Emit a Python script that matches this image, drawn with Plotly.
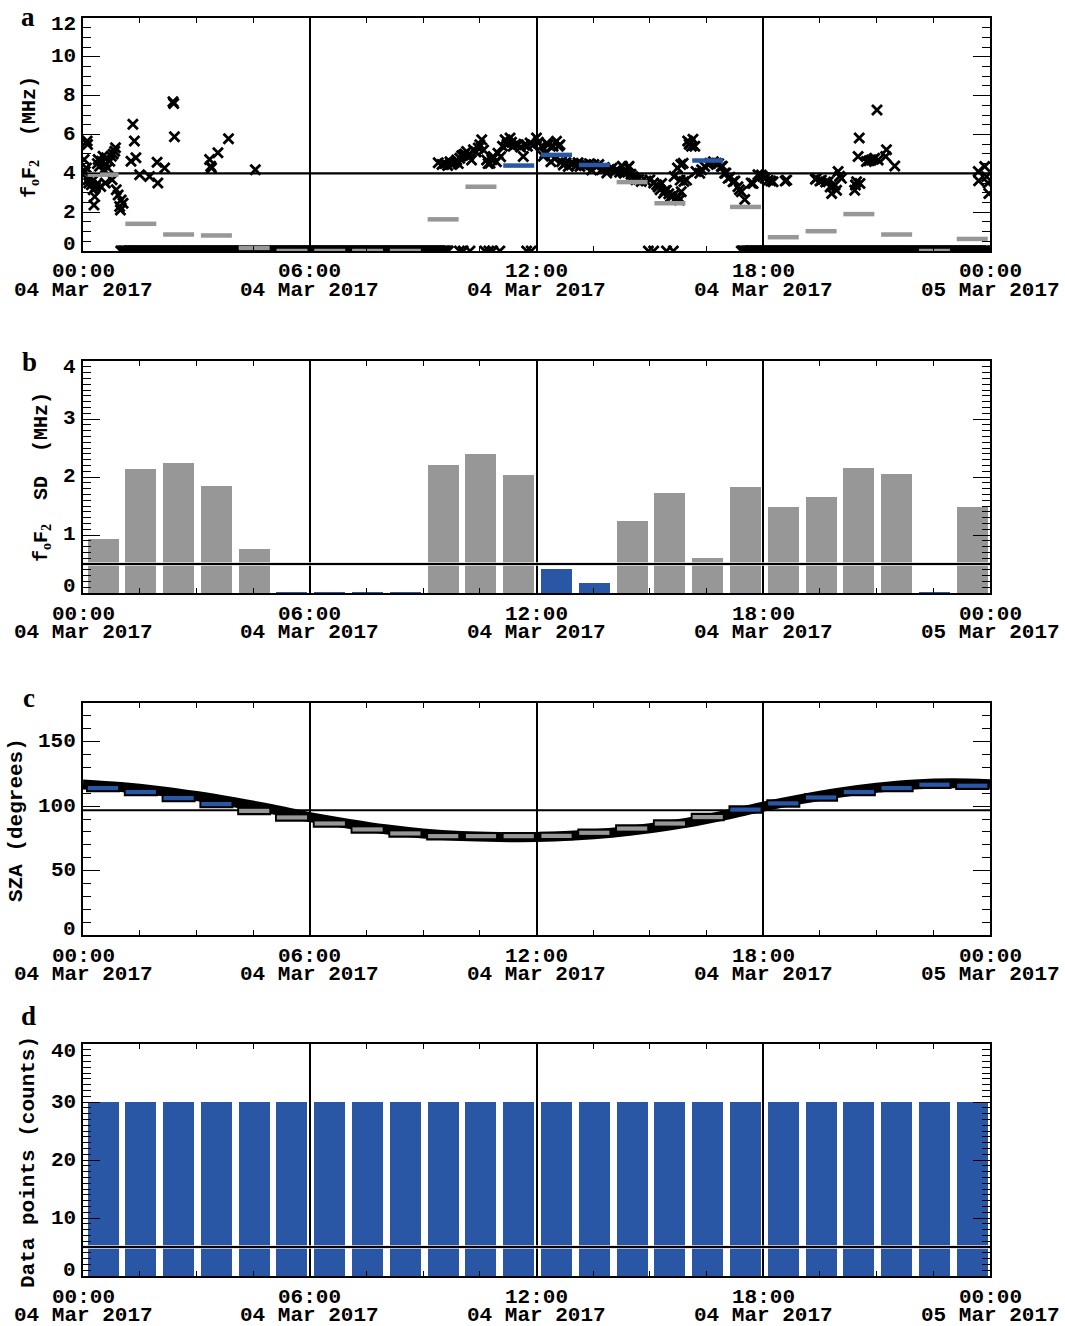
import numpy as np
import pandas as pd
import plotly.graph_objects as go

# ---------------------------------------------------------------- data
DAY_START = "2017-03-04 00:00"
DAY_END = "2017-03-05 00:00"
HOUR_INDEX = list(range(24))
TICK_HOURS = [0, 6, 12, 18, 24]

# panel a : individual foF2 samples (hours after 00:00 UT, MHz)
FOF2_TIME_H = [
    0.03, 0.06, 0.09, 0.11, 0.12, 0.13, 0.15, 0.18, 0.22, 0.25, 0.27, 0.29, 0.31, 0.33, 0.35,
    0.38, 0.40, 0.44, 0.47, 0.49, 0.53, 0.55, 0.57, 0.59, 0.62, 0.66, 0.71, 0.75, 0.77, 0.80,
    0.84, 0.86, 0.88, 0.93, 0.97, 0.99, 1.01, 1.06,
    1.27, 1.32, 1.36, 1.40, 1.50, 1.76, 1.96, 1.98, 2.16, 2.38, 2.40, 2.42,
    3.35, 3.38, 3.40, 3.57, 3.85, 4.56,
    9.40, 9.50, 9.58, 9.65, 9.71, 9.76, 9.80, 9.85, 9.89, 9.93, 9.97, 10.02, 10.06, 10.10,
    10.15, 10.20, 10.28, 10.33, 10.40, 10.46, 10.50, 10.55, 10.60, 10.68, 10.72, 10.77, 10.82,
    10.85, 10.94, 10.98, 11.05, 11.10, 11.17, 11.22, 11.25, 11.30, 11.34, 11.38, 11.45, 11.52,
    11.58, 11.65, 11.69, 11.76, 11.83, 11.90, 12.00, 12.05, 12.13, 12.18, 12.22, 12.27, 12.31,
    12.38, 12.44, 12.48, 12.53, 12.58, 12.62, 12.66, 12.71, 12.78, 12.84, 12.90, 12.97, 13.05,
    13.10, 13.15, 13.22, 13.27, 13.32, 13.40, 13.46, 13.52, 13.59, 13.65, 13.72, 13.80, 13.86,
    13.93, 14.00, 14.07, 14.13, 14.20, 14.27, 14.32, 14.36, 14.42, 14.45, 14.50, 14.55, 14.60,
    14.63, 14.70, 14.77, 14.90, 15.00, 15.10, 15.18, 15.22, 15.27, 15.31, 15.36, 15.40, 15.44,
    15.50, 15.55, 15.62, 15.69, 15.75, 15.78, 15.83, 15.64, 15.73, 15.80, 15.82, 15.88, 15.90,
    15.97, 16.00, 16.04, 16.06, 16.10, 16.14, 16.19, 16.22, 16.32, 16.37, 16.45, 16.55, 16.59,
    16.68, 16.76, 16.82, 16.89, 16.92, 16.98, 17.01, 17.07, 17.12, 17.20, 17.25, 17.33, 17.37,
    17.42, 17.51, 17.68, 17.73, 17.86, 17.95,
    17.99, 18.05, 18.13, 18.20, 18.26, 18.58, 18.62, 19.38, 19.41, 19.50, 19.54, 19.65, 19.72,
    19.77, 19.81, 19.90, 19.94, 19.98, 20.02, 20.07, 20.42, 20.44, 20.47, 20.51, 20.54, 20.56,
    20.73, 20.80, 20.86, 20.92, 20.95, 21.01, 21.04, 21.24, 21.26, 21.48,
    23.69, 23.70, 23.86, 23.91, 23.95, 23.97,
]
FOF2_MHZ = [
    4.71, 4.10, 4.28, 5.66, 5.49, 3.67, 3.50, 3.80, 3.41, 3.60, 3.15, 2.37, 2.80, 3.30, 3.41,
    4.50, 4.71, 4.36, 3.32, 4.62, 4.88, 4.20, 4.45, 3.50, 4.80, 4.28, 4.62, 4.88, 3.67, 5.00,
    5.14, 5.32, 3.15, 2.89, 2.29, 2.11, 2.63, 2.46,
    4.62, 6.53, 5.66, 4.80, 3.93, 3.84, 4.57, 3.50, 4.28, 7.69, 7.60, 5.89,
    4.71, 4.36, 4.28, 5.06, 5.78, 4.19,
    4.55, 4.45, 4.50, 4.40, 4.60, 4.45, 4.52, 4.60, 4.69, 4.50, 4.78, 4.90, 4.95, 5.00,
    5.13, 4.90, 4.69, 5.21, 5.10, 5.30, 5.47, 5.73, 5.20, 4.69, 4.50, 4.52, 4.70,
    4.87, 4.60, 5.04, 4.85, 5.40, 5.73, 5.50, 5.56, 5.82, 5.60, 5.39, 5.50, 5.47,
    5.35, 4.87, 5.47, 5.40, 5.56, 5.45, 5.82, 5.60, 5.39, 4.88, 5.04, 5.55, 5.47,
    4.60, 5.39, 4.75, 5.65, 5.40, 5.47, 4.60, 4.43, 4.55, 4.35, 4.50, 4.52, 4.40,
    4.55, 4.35, 4.45, 4.40, 4.43, 4.50, 4.17, 4.45, 4.35, 4.45, 4.19, 4.30, 4.02,
    4.20, 4.28, 4.10, 4.19, 4.05, 4.36, 4.00, 4.10, 4.30, 4.36, 3.95, 3.84, 3.75,
    3.67, 3.70, 3.58, 3.60, 3.67, 3.50, 3.41, 3.30, 3.15, 3.48, 2.98, 3.10, 3.13,
    2.95, 2.80, 2.87, 2.72, 2.78, 2.63, 3.05, 3.84, 4.28, 3.65, 4.45, 4.52, 3.58,
    3.65, 5.66, 5.50, 5.56, 5.40, 5.75, 5.39, 4.10, 4.00, 4.19, 4.35, 4.45, 4.52,
    4.60, 4.52, 4.50, 4.35, 4.36, 4.00, 4.02, 3.74, 3.80, 3.57, 3.60, 3.31, 3.15,
    3.05, 2.65, 3.50, 3.48, 3.93, 3.91,
    3.83, 3.75, 3.65, 3.60, 3.57, 3.60, 3.65, 3.70, 3.74, 3.60, 3.65, 3.55, 3.57,
    3.30, 2.96, 3.40, 3.13, 4.09, 3.85, 3.74, 3.13, 3.40, 3.57, 4.87, 5.82, 3.48,
    4.61, 4.65, 4.69, 4.72, 4.78, 7.26, 4.69, 4.87, 5.21, 4.38,
    4.09, 3.62, 4.35, 3.83, 3.50, 2.96,
]
# samples with no foF2 (plotted as 0 MHz): continuous spans at the ionosonde cadence, plus isolated ones
FOF2_ZERO_SPANS_H = [(1.00, 9.68), (17.42, 24.00)]
FOF2_ZERO_TIMES_H = [9.96, 10.06, 10.24, 10.63, 10.74, 10.84, 11.03, 11.74, 11.86,
                     14.96, 15.10, 15.44, 15.62]
SAMPLE_CADENCE_MIN = 2
FOF2_HOURLY = [3.93, 1.40, 0.85, 0.80, 0.16, 0.0, 0.0, 0.0, 0.0, 1.63, 3.31, 4.40,
               4.95, 4.43, 3.55, 2.46, 4.66, 2.27, 0.71, 1.02, 1.90, 0.85, 0.0, 0.62]
FOF2_LIMIT = 4.0

# panel b : hourly standard deviation of foF2 (MHz)
FOF2_SD = [0.93, 2.14, 2.25, 1.84, 0.76, 0.01, 0.01, 0.01, 0.01, 2.21, 2.40, 2.04,
           0.41, 0.18, 1.24, 1.72, 0.61, 1.82, 1.49, 1.65, 2.15, 2.06, 0.01, 1.49]
SD_LIMIT = 0.5

# panel c : solar zenith angle (degrees)
SZA_CURVE_H = list(range(25))
SZA_CURVE = [116.8, 114.8, 111.8, 107.8, 103.0, 97.6, 91.4, 86.4, 82.0, 78.8, 76.8, 76.0,
             76.0, 77.2, 79.4, 82.8, 87.2, 93.0, 99.6, 105.4, 110.4, 114.2, 116.8, 117.8, 117.0]
SZA_HOURLY = [114.0, 110.9, 106.2, 101.6, 96.3, 91.2, 86.5, 81.9, 78.8, 76.7, 76.7, 76.7,
              76.9, 79.3, 82.6, 86.5, 91.5, 97.3, 102.1, 106.7, 110.9, 114.0, 116.6, 115.8]
SZA_LIMIT = 96.8

# panel d : number of data points per hour
COUNTS = [30, 30, 30, 30, 30, 30, 30, 30, 30, 30, 30, 30,
          30, 30, 30, 30, 30, 30, 30, 30, 30, 30, 30, 30]
COUNT_LIMIT = 5

# ---------------------------------------------------------------- style / layout
W, H = 1065, 1326
X0, X1 = 83, 990
PANELS = {  # top, bottom pixel of each plot box
    "a": (18, 251), "b": (361, 593), "c": (703, 935), "d": (1044, 1276),
}
BLUE = "#2957a5"
GREY = "#979797"
BAR_CENTER = 0.53
BAR_W = 0.82
MONO = "Liberation Mono"
SERIF = "Liberation Serif"

T0 = pd.Timestamp(DAY_START)
T1 = pd.Timestamp(DAY_END)
MS_H = 3600 * 1000


def ts(h):
    return (T0 + pd.Timedelta(hours=float(h))).strftime("%Y-%m-%d %H:%M:%S.%f")


def dom(top, bot):
    return [1 - bot / H, 1 - top / H]


def py(px):
    return 1 - px / H


fig = go.Figure()


def seg_trace(xa, ya, hours, vals, color, width, start, end, name=""):
    xs, ys = [], []
    for h, v in zip(hours, vals):
        xs += [ts(h + start), ts(h + end), None]
        ys += [v, v, None]
    fig.add_trace(go.Scatter(x=xs, y=ys, mode="lines", xaxis=xa, yaxis=ya,
                             line=dict(color=color, width=width), hoverinfo="skip",
                             showlegend=False, name=name))


def hline(xa, ya, v, color="black", width=2.2):
    fig.add_trace(go.Scatter(x=[ts(0), ts(24)], y=[v, v], mode="lines", xaxis=xa, yaxis=ya,
                             line=dict(color=color, width=width), hoverinfo="skip",
                             showlegend=False))


# ---- panel a
hline("x", "y", FOF2_LIMIT)
zero_t = []
for a, b in FOF2_ZERO_SPANS_H:
    zero_t += list(np.arange(a, b + 1e-9, SAMPLE_CADENCE_MIN / 60.0))
zero_t += FOF2_ZERO_TIMES_H
fig.add_trace(go.Scatter(x=[ts(h) for h in zero_t], y=[0.0] * len(zero_t), mode="markers",
                         xaxis="x", yaxis="y",
                         marker=dict(symbol="x-thin", size=10,
                                     line=dict(color="black", width=2.8)),
                         showlegend=False))
fig.add_trace(go.Scatter(x=[ts(h) for h in FOF2_TIME_H], y=FOF2_MHZ, mode="markers",
                         xaxis="x", yaxis="y",
                         marker=dict(symbol="x-thin", size=10,
                                     line=dict(color="black", width=2.8)),
                         showlegend=False))
hi = [h for h in HOUR_INDEX if FOF2_HOURLY[h] > FOF2_LIMIT]
lo = [h for h in HOUR_INDEX if FOF2_HOURLY[h] <= FOF2_LIMIT]
seg_trace("x", "y", lo, [FOF2_HOURLY[h] for h in lo], GREY, 4.5, 0.12, 0.94)
seg_trace("x", "y", hi, [FOF2_HOURLY[h] for h in hi], BLUE, 4.5, 0.12, 0.94)

# ---- panel b
fig.add_trace(go.Bar(x=[ts(h + BAR_CENTER) for h in HOUR_INDEX], y=FOF2_SD,
                     width=[BAR_W * MS_H] * 24, xaxis="x2", yaxis="y2",
                     marker=dict(color=[BLUE if v < SD_LIMIT else GREY for v in FOF2_SD],
                                 line=dict(width=0)),
                     showlegend=False))
hline("x2", "y2", SD_LIMIT, "#dddddd", 3.4)
hline("x2", "y2", SD_LIMIT, "black", 2.2)

# ---- panel c
hline("x3", "y3", SZA_LIMIT)
fig.add_trace(go.Scatter(x=[ts(h) for h in SZA_CURVE_H], y=SZA_CURVE, mode="lines",
                         xaxis="x3", yaxis="y3", line=dict(color="black", width=10, shape="spline"),
                         showlegend=False))
seg_trace("x3", "y3", HOUR_INDEX, SZA_HOURLY, "black", 8.5, 0.08, 0.98)
hi = [h for h in HOUR_INDEX if SZA_HOURLY[h] > SZA_LIMIT]
lo = [h for h in HOUR_INDEX if SZA_HOURLY[h] <= SZA_LIMIT]
seg_trace("x3", "y3", lo, [SZA_HOURLY[h] for h in lo], GREY, 4.2, 0.13, 0.93)
seg_trace("x3", "y3", hi, [SZA_HOURLY[h] for h in hi], BLUE, 4.2, 0.13, 0.93)

# ---- panel d
fig.add_trace(go.Bar(x=[ts(h + BAR_CENTER) for h in HOUR_INDEX], y=COUNTS,
                     width=[BAR_W * MS_H] * 24, xaxis="x4", yaxis="y4",
                     marker=dict(color=[BLUE if v > COUNT_LIMIT else GREY for v in COUNTS],
                                 line=dict(width=0)),
                     showlegend=False))
hline("x4", "y4", COUNT_LIMIT, "#dddddd", 3.4)
hline("x4", "y4", COUNT_LIMIT, "black", 2.2)

# ---------------------------------------------------------------- axes
Y_SPECS = {  # range, major dtick, minor dtick
    "a": ([0, 12], 2, 0.5),
    "b": ([0, 4], 1, 0.1),
    "c": ([0, 180], 50, 10),
    "d": ([0, 40], 10, 1),
}
Y_TICKS = {
    "a": [0, 2, 4, 6, 8, 10, 12],
    "b": [0, 1, 2, 3, 4],
    "c": [0, 50, 100, 150],
    "d": [0, 10, 20, 30, 40],
}

layout = dict(width=W, height=H, margin=dict(l=0, r=0, t=0, b=0),
              paper_bgcolor="white", plot_bgcolor="white", showlegend=False,
              barmode="overlay", bargap=0)
annotations = []
for i, key in enumerate(["a", "b", "c", "d"]):
    sfx = "" if i == 0 else str(i + 1)
    top, bot = PANELS[key]
    rng, dt, mdt = Y_SPECS[key]
    layout["xaxis" + sfx] = dict(
        type="date", range=[ts(0), ts(24)], domain=[X0 / W, X1 / W], anchor="y" + sfx,
        showline=True, linecolor="black", linewidth=1.5, mirror="allticks",
        ticks="inside", ticklen=5, tickwidth=1.2, tickcolor="black",
        tick0=ts(0), dtick=6 * MS_H, showticklabels=False,
        showgrid=True, gridcolor="black", gridwidth=1.5, zeroline=False,
        minor=dict(tick0=ts(0), dtick=1.5 * MS_H, ticks="inside", ticklen=5,
                   tickwidth=1.2, tickcolor="black", showgrid=False))
    layout["yaxis" + sfx] = dict(
        domain=dom(top, bot), anchor="x" + sfx, range=rng,
        showline=True, linecolor="black", linewidth=1.5, mirror="allticks",
        ticks="inside", ticklen=17, tickwidth=1.3, tickcolor="black",
        tick0=0, dtick=dt, showticklabels=False, showgrid=False, zeroline=False,
        minor=dict(tick0=0, dtick=mdt, ticks="inside", ticklen=8, tickwidth=1.1,
                   tickcolor="black", showgrid=False))
    # y tick labels
    for v in Y_TICKS[key]:
        shift = 0
        if v == rng[0]:
            shift = 6
        elif v == rng[1]:
            shift = -7
        annotations.append(dict(x=78 / W, xref="paper", xanchor="right", y=v, yref="y" + sfx,
                                yanchor="middle", yshift=shift, text=str(v), showarrow=False,
                                font=dict(family=MONO, size=21, color="black", weight="bold")))
    # x tick labels (time and date lines)
    for h in TICK_HOURS:
        stamp = T0 + pd.Timedelta(hours=h)
        annotations.append(dict(x=ts(h), xref="x" + sfx, xanchor="center", y=py(bot + 21),
                                yref="paper", yanchor="middle", text=stamp.strftime("%H:%M"),
                                showarrow=False,
                                font=dict(family=MONO, size=21, color="black", weight="bold")))
        annotations.append(dict(x=ts(h), xref="x" + sfx, xanchor="center", y=py(bot + 39),
                                yref="paper", yanchor="middle", text=stamp.strftime("%d %b %Y"),
                                showarrow=False,
                                font=dict(family=MONO, size=21, color="black", weight="bold")))

# panel letters
for letter, (lx, ly) in {"a": (28, 17), "b": (29, 362), "c": (29, 698), "d": (28, 1016)}.items():
    annotations.append(dict(x=lx / W, y=py(ly), xref="paper", yref="paper", xanchor="center",
                            yanchor="middle", text=letter, showarrow=False,
                            font=dict(family=SERIF, size=27, color="black", weight="bold")))

sub = lambda s: '<sub style="font-family:Liberation Serif">' + s + "</sub>"
NB = "\u00a0"
Y_TITLES = [
    ("f" + sub("o") + "F" + sub("2") + NB * 2 + "(MHz)", 30, 137, 20),
    ("f" + sub("o") + "F" + sub("2") + NB * 2 + "SD" + NB * 2 + "(MHz)", 42, 477, 20),
    ("SZA" + NB + "(degrees)", 16, 820, 21),
    ("Data" + NB + "points" + NB + "(counts)", 28, 1162, 21),
]
for text, tx, ty, size in Y_TITLES:
    annotations.append(dict(x=tx / W, y=py(ty), xref="paper", yref="paper", xanchor="center",
                            yanchor="middle", text=text, textangle=-90, showarrow=False,
                            font=dict(family=MONO, size=size, color="black", weight="bold")))

layout["annotations"] = annotations
fig.update_layout(**layout)
fig.write_html("out.html")
